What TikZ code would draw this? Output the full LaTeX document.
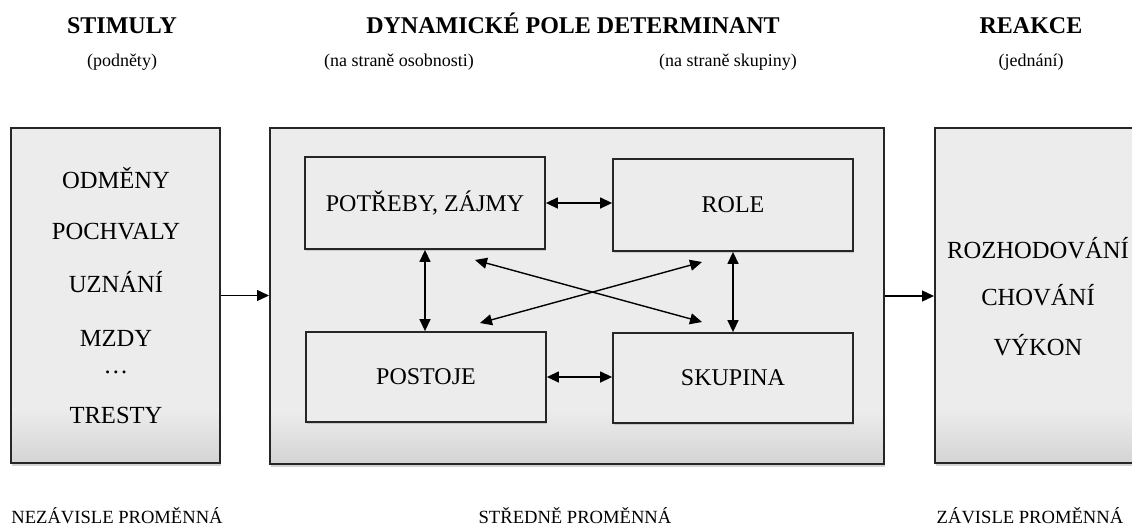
\documentclass[tikz,border=0pt]{standalone}
\usepackage{fontspec}
\setmainfont{Liberation Serif}
\usetikzlibrary{arrows.meta,shadows,calc}
\definecolor{boxgray}{HTML}{ECECEC}
\definecolor{boxdark}{HTML}{D4D4D4}
\pgfdeclareverticalshading{boxfade}{100bp}{color(0bp)=(boxdark); color(25bp)=(boxdark);
  color(33bp)=(boxgray); color(100bp)=(boxgray)}
\tikzset{>={Triangle[length=6pt,width=5.5pt]}}
\tikzset{
  bigbox/.style={draw=black!85,line width=1pt,shading=boxfade,
    drop shadow={shadow xshift=0.6pt,shadow yshift=-1.4pt,opacity=0.35}},
  smallbox/.style={draw=black!85,line width=0.9pt,fill=boxgray,minimum width=120pt,minimum height=46pt,
    font=\fontsize{12}{14}\selectfont,
    drop shadow={shadow xshift=0.5pt,shadow yshift=-1pt,opacity=0.3}},
  boxtext/.style={anchor=base,inner sep=0pt,font=\fontsize{12.3}{14}\selectfont},
  head/.style={anchor=base,inner sep=0pt,font=\fontsize{12}{14}\selectfont\bfseries},
  subhead/.style={anchor=base,inner sep=0pt,font=\fontsize{9}{11}\selectfont},
  foot/.style={anchor=base,inner sep=0pt,font=\fontsize{9.3}{11}\selectfont},
  link/.style={line width=0.7pt}
}
\begin{document}
\begin{tikzpicture}[x=0.5pt,y=-0.5pt]
    \useasboundingbox (0,0) rectangle (1132,526);
    \clip (0,0) rectangle (1132,526);

    % headings
    \node[head] (hstim) at (122,33) {STIMULY};
    \node[subhead] (sstim) at (122,66) {(podněty)};
    \node[head] (hpole) at (573,33) {DYNAMICKÉ POLE DETERMINANT};
    \node[subhead] (sosob) at (399,66) {(na straně osobnosti)};
    \node[subhead] (sskup) at (728,66) {(na straně skupiny)};
    \node[head] (hreak) at (1031,33) {REAKCE};
    \node[subhead] (sreak) at (1031,66) {(jednání)};

    % outer boxes
    \node[bigbox,shade,minimum width=104.5pt,minimum height=167.5pt] (stim) at (115.5,295.5) {};
    \node[bigbox,shade,minimum width=307pt,minimum height=168pt] (pole) at (577,296) {};
    \node[bigbox,shade,minimum width=110pt,minimum height=167.5pt] (reak) at (1045,295.5) {};

    \foreach \txt/\y [count=\i] in {ODMĚNY/188,POCHVALY/239,UZNÁNÍ/292,MZDY/346,…/373,TRESTY/423}
      \node[boxtext] (stim\i) at (116,\y) {\txt};
    \foreach \txt/\y [count=\i] in {ROZHODOVÁNÍ/258,CHOVÁNÍ/305,VÝKON/355}
      \node[boxtext] (reak\i) at (1038,\y) {\txt};

    % inner boxes
    \node[smallbox] (potreby) at (425,203) {POTŘEBY, ZÁJMY};
    \node[smallbox] (role) at (733,205) {ROLE};
    \node[smallbox,minimum height=45pt] (postoje) at (426,377) {POSTOJE};
    \node[smallbox,minimum height=45pt] (skupina) at (733,378) {SKUPINA};

    \coordinate (x1) at (475,260);
    \coordinate (x2) at (702,322);
    \coordinate (x3) at (480,323);
    \coordinate (x4) at (702,262);

    \draw[link,->](stim.east)--(stim.east -| pole.west);
    \draw[link,->](pole.east)--(pole.east -| reak.west);
    \draw[link,<->](potreby.east)--(potreby.east -| role.west);
    \draw[link,<->](postoje.east)--(postoje.east -| skupina.west);
    \draw[link,<->](potreby.south)--(potreby.south |- postoje.north);
    \draw[link,<->](role.south)--(role.south |- skupina.north);
    \draw[link,<->](x1)--(x2);
    \draw[link,<->](x3)--(x4);

    % bottom labels
    \node[foot] (fnez) at (117,523) {NEZÁVISLE PROMĚNNÁ};
    \node[foot] (fstr) at (575,523) {STŘEDNĚ PROMĚNNÁ};
    \node[foot] (fzav) at (1030,523) {ZÁVISLE PROMĚNNÁ};
\end{tikzpicture}
\end{document}
